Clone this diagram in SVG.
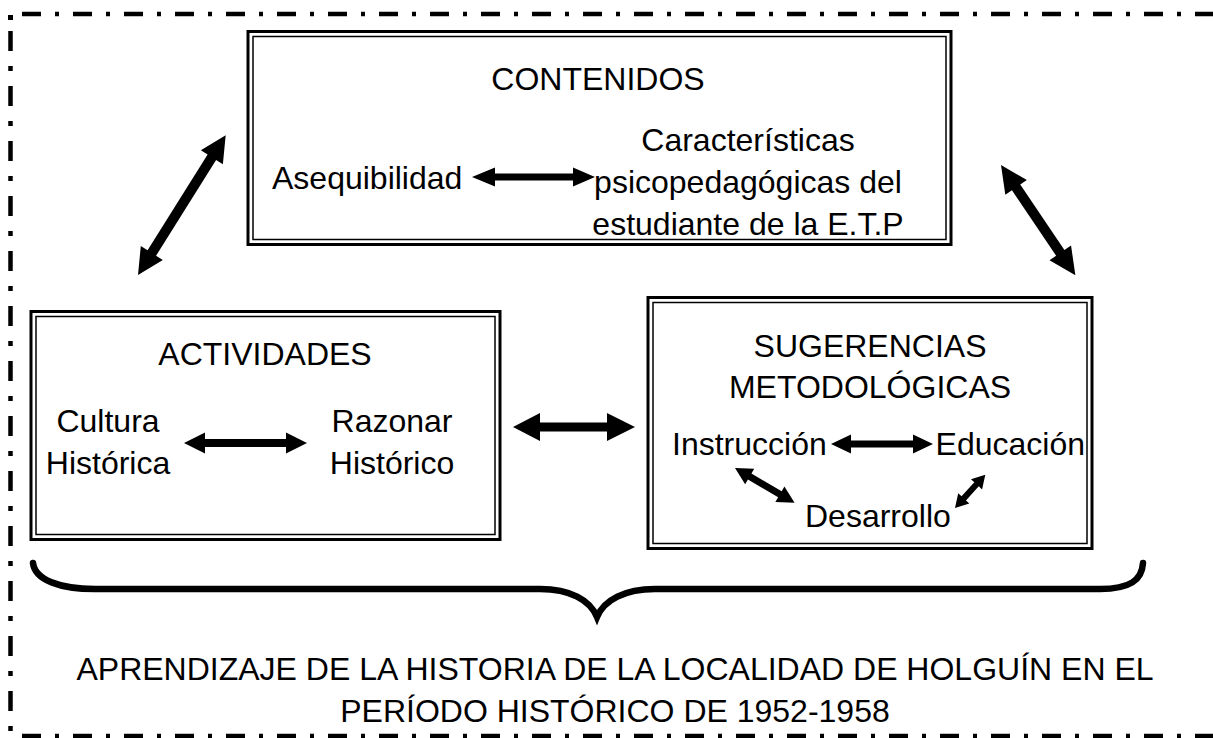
<svg xmlns="http://www.w3.org/2000/svg" width="1213" height="738" viewBox="0 0 1213 738">
<style>
text{font-family:"Liberation Sans",Arial,sans-serif;font-size:32px;fill:#000}
.c{text-anchor:middle}
.e{text-anchor:end}
.outer{fill:none;stroke:#000;stroke-width:3}
.inner{fill:none;stroke:#000;stroke-width:1.5}
.frame{fill:none;stroke:#000;stroke-width:4.5}
.arr{fill:#000}
</style>
<rect width="1213" height="738" fill="#fff"/>
<g id="frame">
<rect x="8" y="15" width="5" height="5" fill="#000"/>
<path class="frame" d="M22,14 H1213" stroke-dasharray="19 14 4 14"/>
<path class="frame" d="M10.5,31 V738" stroke-dasharray="20 15 5 15"/>
<path class="frame" d="M22,736 H1213" stroke-dasharray="19 14 4 14"/>
</g>
<g id="contenidos">
<rect class="outer" x="248" y="31.5" width="703" height="213"/>
<rect class="inner" x="253" y="36.5" width="693" height="203"/>
<text class="c" x="598" y="90">CONTENIDOS</text>
<text x="272" y="189">Asequibilidad</text>
<text class="c" x="748" y="151">Características</text>
<text class="c" x="748" y="193">psicopedagógicas del</text>
<text class="c" x="748" y="235">estudiante de la E.T.P</text>
</g>
<g id="actividades">
<rect class="outer" x="31" y="311.5" width="469" height="228"/>
<rect class="inner" x="36" y="316.5" width="459" height="218"/>
<text class="c" x="265" y="365">ACTIVIDADES</text>
<text class="c" x="108" y="432">Cultura</text>
<text class="c" x="108" y="474">Histórica</text>
<text class="c" x="392" y="432">Razonar</text>
<text class="c" x="392" y="474">Histórico</text>
</g>
<g id="sugerencias">
<rect class="outer" x="648" y="297.5" width="444" height="251"/>
<rect class="inner" x="653" y="302.5" width="434" height="241"/>
<text class="c" x="870" y="357">SUGERENCIAS</text>
<text class="c" x="870" y="398">METODOLÓGICAS</text>
<text x="672" y="455">Instrucción</text>
<text class="e" x="1085" y="455">Educación</text>
<text x="805" y="527">Desarrollo</text>
</g>
<g id="brace">
<path d="M33,563 C35,580 60,589 95,589 L540,589 C570,589 590,600 597,617 C604,600 625,589 655,589 L1100,589 C1130,589 1142,580 1143,563" fill="none" stroke="#000" stroke-width="6.5" stroke-linecap="round"/>
<text class="c" x="615" y="680">APRENDIZAJE DE LA HISTORIA DE LA LOCALIDAD DE HOLGUÍN EN EL</text>
<text class="c" x="615" y="722">PERÍODO HISTÓRICO DE 1952-1958</text>
</g>
<g id="connectors">
<polygon class="arr" points="472,177 495,167.5 495,173.5 573,173.5 573,167.5 595,177 573,186.5 573,180.5 495,180.5 495,186.5"/>
<polygon class="arr" points="513,427 540,413 540,422.5 607,422.5 607,413 635,427 607,441 607,431.5 540,431.5 540,441"/>
<polygon class="arr" points="184,443 205,432.5 205,439 286,439 286,432.5 307,443 286,453.5 286,447 205,447 205,453.5"/>
<polygon class="arr" points="831,444 851,434.5 851,440.5 913,440.5 913,434.5 933,444 913,453.5 913,447.5 851,447.5 851,453.5"/>
<g transform="translate(138,275) rotate(-57.9)">
<polygon class="arr" points="0,0 26,-13 26,-5 139,-5 139,-13 165,0 139,13 139,5 26,5 26,13"/>
</g>
<g transform="translate(1001,165) rotate(56)">
<polygon class="arr" points="0,0 27,-13 27,-5 106,-5 106,-13 133,0 106,13 106,5 27,5 27,13"/>
</g>
<g transform="translate(735,468) rotate(30.3)">
<polygon class="arr" points="0,0 17,-9 17,-3.5 52,-3.5 52,-9 69,0 52,9 52,3.5 17,3.5 17,9"/>
</g>
<g transform="translate(955,508) rotate(-47.7)">
<polygon class="arr" points="0,0 13,-7.5 13,-3 32,-3 32,-7.5 45,0 32,7.5 32,3 13,3 13,7.5"/>
</g>
</g>
</svg>
